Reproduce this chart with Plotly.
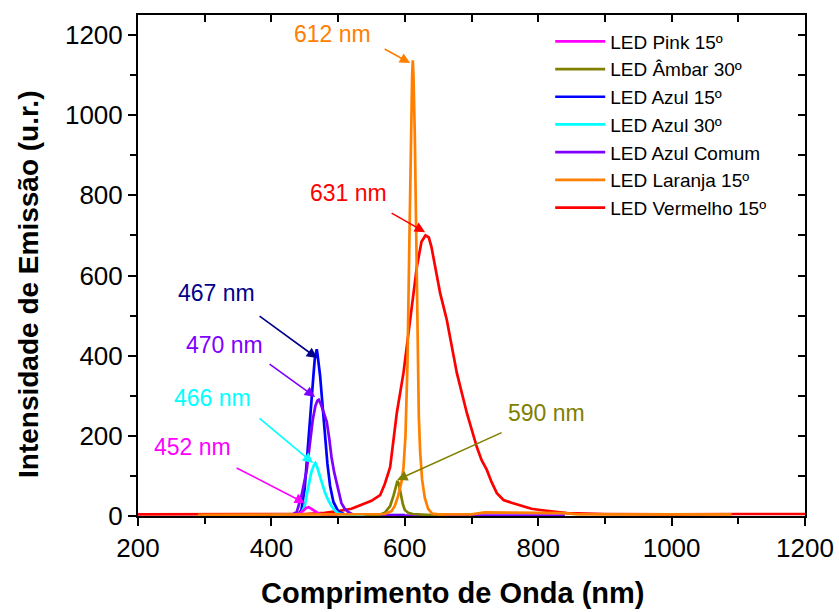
import plotly.graph_objects as go

# ---------------- data ----------------
pink_x = [420, 430, 440, 447, 452, 456, 460, 465, 470, 478, 490, 500]
pink_y = [2, 2, 5, 12, 20, 22, 18, 12, 7, 3, 2, 2]

ambar_x = [540, 560, 570, 578, 583, 587, 589, 591, 594, 597, 600, 605, 612, 625, 640, 660]
ambar_y = [2, 2, 8, 25, 50, 80, 88, 80, 55, 30, 15, 8, 5, 3, 2, 2]

azul15_x = [380, 430, 440, 445, 450, 453, 457, 460, 463, 465, 467, 468, 469, 471, 473, 476, 480, 484, 488, 493, 500, 510, 520, 600]
azul15_y = [2, 2, 4, 15, 70, 140, 220, 290, 350, 392, 410, 416, 405, 380, 350, 290, 200, 130, 75, 35, 12, 4, 2, 2]

azul30_x = [400, 440, 445, 450, 455, 460, 464, 466, 468, 471, 475, 480, 485, 490, 495, 500, 510, 520, 540]
azul30_y = [2, 2, 8, 25, 70, 110, 128, 132, 125, 108, 85, 60, 40, 25, 14, 7, 3, 2, 2]

comum_x = [330, 430, 438, 445, 453, 458, 462, 466, 469, 471, 474, 478, 483, 487, 490, 494, 498, 502, 505, 510, 515, 522, 530, 600, 700, 840]
comum_y = [1, 2, 10, 50, 115, 180, 240, 275, 288, 290, 280, 260, 235, 190, 148, 110, 82, 50, 32, 18, 10, 4, 2, 1, 1, 1]

laranja_x = [290, 400, 500, 570, 580, 585, 590, 595, 598, 601, 604, 607, 609, 611, 612, 613, 615, 617, 619, 621, 623, 626, 630, 635, 641, 650, 700, 720, 800, 840, 860, 1000, 1090]
laranja_y = [3, 3, 4, 5, 12, 25, 50, 85, 120, 200, 380, 700, 950, 1100, 1137, 1100, 950, 700, 420, 250, 160, 90, 45, 18, 6, 4, 4, 9, 8, 7, 4, 4, 4]

vermelho_x = [200, 300, 400, 450, 480, 500, 520, 533, 550, 563, 570, 578, 588, 598, 608, 618, 625, 631, 636, 640, 653, 663, 678, 693, 708, 715, 723, 730, 738, 748, 760, 773, 790, 803, 843, 900, 1000, 1100, 1200]
vermelho_y = [4, 4, 4, 5, 8, 12, 18, 27, 38, 52, 80, 122, 257, 357, 489, 621, 684, 700, 695, 671, 556, 489, 357, 257, 172, 140, 115, 85, 57, 40, 33, 27, 18, 15, 7, 5, 4, 5, 5]

series = [
    # name, x, y, color, legend rank
    ("LED Vermelho 15º", vermelho_x, vermelho_y, "#FF0000", 7),
    ("LED Azul 15º", azul15_x, azul15_y, "#0000FF", 3),
    ("LED Azul Comum", comum_x, comum_y, "#8000FF", 5),
    ("LED Azul 30º", azul30_x, azul30_y, "#00FFFF", 4),
    ("LED Pink 15º", pink_x, pink_y, "#FF00FF", 1),
    ("LED Âmbar 30º", ambar_x, ambar_y, "#808000", 2),
    ("LED Laranja 15º", laranja_x, laranja_y, "#FF8000", 6),
]

# peak labels: text, peak x, peak y, text x, text y, tail dx, tail dy (px), colour
peak_labels = [
    ("612 nm", 608, 1130, 492, 1202, -27, -15, "#FF8000"),
    ("631 nm", 630.5, 708, 515, 806, -35, -20, "#FF0000"),
    ("467 nm", 468.5, 394, 317, 556, -59, -43, "#00008B"),
    ("470 nm", 465.5, 297, 329, 427, -47, -34, "#8000FF"),
    ("466 nm", 462.5, 132, 312, 294, -55, -46, "#00FFFF"),
    ("452 nm", 450.5, 32, 281, 172, -70, -36, "#FF00FF"),
    ("590 nm", 588.5, 90, 813, 257, 106, -48, "#808000"),
]

x_title = "Comprimento de Onda (nm)"
y_title = "Intensidade de Emissão (u.r.)"

FONT = "Liberation Sans, Arial, sans-serif"

fig = go.Figure()
for name, xs, ys, col, rank in series:
    fig.add_trace(go.Scatter(x=xs, y=ys, mode="lines", name=name,
                             line=dict(color=col, width=2.7),
                             legendrank=rank))

# empty trace to create the mirrored top/right axes
fig.add_trace(go.Scatter(x=[], y=[], xaxis="x2", yaxis="y2", showlegend=False))

for txt, px, py, tx, ty, dx, dy, col in peak_labels:
    fig.add_annotation(x=tx, y=ty, text=txt, showarrow=False,
                       font=dict(family=FONT, size=23, color=col))
    fig.add_annotation(x=px, y=py, text="", showarrow=True, ax=dx, ay=dy,
                       arrowhead=2, arrowsize=1.3, arrowwidth=1.6, arrowcolor=col)

# axis titles
fig.add_annotation(x=0.471, y=-0.154, xref="paper", yref="paper",
                   text=f"<b>{x_title}</b>", showarrow=False,
                   xanchor="center", yanchor="middle",
                   font=dict(family=FONT, size=29, color="black"))
fig.add_annotation(x=-0.165, y=0.463, xref="paper", yref="paper",
                   text=f"<b>{y_title}</b>", showarrow=False, textangle=-90,
                   xanchor="center", yanchor="middle",
                   font=dict(family=FONT, size=28, color="black"))

fig.update_layout(
    width=839, height=612,
    margin=dict(l=138, r=34, t=15, b=96, autoexpand=False),
    paper_bgcolor="white", plot_bgcolor="white",
    font=dict(family=FONT, color="black"),
    showlegend=True,
    legend=dict(x=0.618, y=0.985, xanchor="left", yanchor="top",
                bgcolor="rgba(0,0,0,0)", font=dict(size=19, family=FONT),
                itemwidth=50, tracegroupgap=0),
    xaxis=dict(range=[200, 1200], tickmode="linear", tick0=200, dtick=200,
               ticks="outside", ticklen=8, tickwidth=2, tickcolor="black",
               showline=True, linewidth=2, linecolor="black",
               showgrid=False, zeroline=False, automargin=False,
               tickfont=dict(size=26, family=FONT),
               minor=dict(dtick=100, ticks="outside", ticklen=6, tickwidth=2, tickcolor="black")),
    yaxis=dict(range=[0, 1250], tickmode="linear", tick0=0, dtick=200,
               ticks="outside", ticklen=8, tickwidth=2, tickcolor="black",
               showline=True, linewidth=2, linecolor="black",
               showgrid=False, zeroline=False, automargin=False,
               tickfont=dict(size=26, family=FONT),
               minor=dict(dtick=100, ticks="outside", ticklen=6, tickwidth=2, tickcolor="black")),
    xaxis2=dict(overlaying="x", side="top", matches="x", range=[200, 1200],
                tickmode="linear", tick0=200, dtick=100, ticks="inside",
                ticklen=7, tickwidth=2, tickcolor="black", showticklabels=False,
                showline=True, linewidth=2, linecolor="black",
                showgrid=False, zeroline=False, automargin=False),
    yaxis2=dict(overlaying="y", side="right", matches="y", range=[0, 1250],
                tickmode="linear", tick0=0, dtick=100, ticks="inside",
                ticklen=7, tickwidth=2, tickcolor="black", showticklabels=False,
                showline=True, linewidth=2, linecolor="black",
                showgrid=False, zeroline=False, automargin=False),
)

fig.write_html("out.html")
